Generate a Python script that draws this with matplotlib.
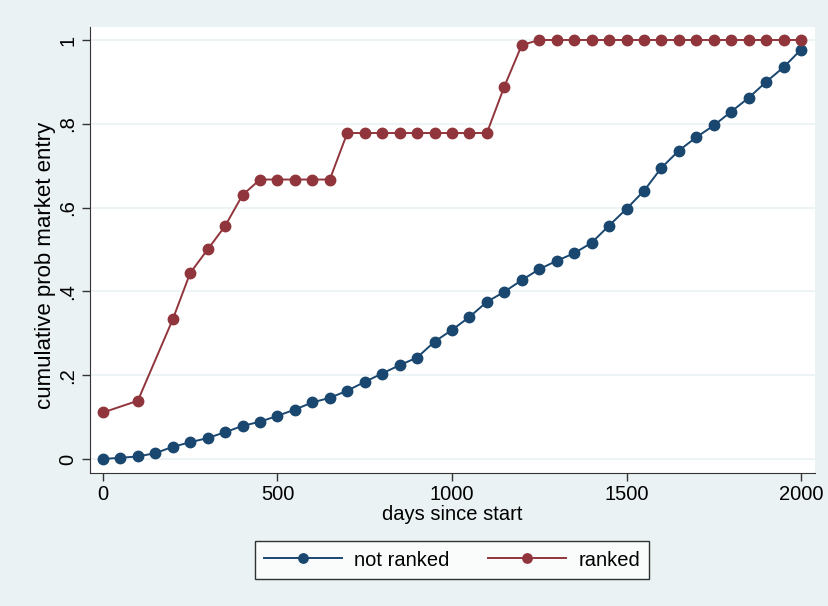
import numpy as np
import matplotlib
matplotlib.use("Agg")
import matplotlib.pyplot as plt

plt.rcParams['font.family'] = ['Liberation Sans', 'DejaVu Sans']

# not ranked: every 50 days
days_nr = list(range(0, 2001, 50))
prob_nr = [0.000, 0.003, 0.006, 0.014, 0.029, 0.040, 0.050, 0.064, 0.079, 0.089,
           0.103, 0.118, 0.135, 0.146, 0.163, 0.184, 0.204, 0.224, 0.242, 0.280,
           0.308, 0.339, 0.375, 0.399, 0.427, 0.453, 0.473, 0.491, 0.516, 0.557,
           0.597, 0.640, 0.695, 0.736, 0.768, 0.796, 0.829, 0.862, 0.900, 0.935,
           0.977]

# ranked
days_r = [0, 100] + list(range(200, 2001, 50))
prob_r = [0.111, 0.139,
          0.333, 0.444, 0.500, 0.556, 0.630,
          0.667, 0.667, 0.667, 0.667, 0.667,
          0.778, 0.778, 0.778, 0.778, 0.778, 0.778, 0.778, 0.778, 0.778,
          0.889, 0.988,
          1.0, 1.0, 1.0, 1.0, 1.0, 1.0, 1.0, 1.0,
          1.0, 1.0, 1.0, 1.0, 1.0, 1.0, 1.0, 1.0]

bg = '#eaf2f3'
navy = '#1a476f'
maroon = '#90353b'
fs = 14.5

fig = plt.figure(figsize=(8.29, 6.06), dpi=100, facecolor=bg)
ax = fig.add_axes([90/829, 1-473/606, (815-90)/829, (473-27)/606])
ax.set_facecolor('white')

ax.plot(days_nr, prob_nr, '-o', color=navy, lw=1.4, ms=7.5, label='not ranked', zorder=3)
ax.plot(days_r, prob_r, '-o', color=maroon, lw=1.4, ms=7.5, label='ranked', zorder=3)

ax.set_xlim(-37, 2040)
ax.set_ylim(-0.0334, 1.031)
ax.set_xticks([0, 500, 1000, 1500, 2000])
ax.set_yticks([0, 0.2, 0.4, 0.6, 0.8, 1.0])
ax.set_yticklabels(['0', '.2', '.4', '.6', '.8', '1'], rotation=90, va='center')
ax.tick_params(labelsize=fs, length=6, color='#333333', width=1, pad=3)
ax.grid(axis='y', color=bg, lw=1.2)
ax.set_axisbelow(True)
for s in ['top', 'right']:
    ax.spines[s].set_visible(False)
for s in ['left', 'bottom']:
    ax.spines[s].set_color('#333333')

ax.set_xlabel('days since start', fontsize=fs, labelpad=0)
ax.set_ylabel('cumulative prob market entry', fontsize=16)
ax.yaxis.set_label_coords(-34/725, (473-265)/446)

leg = fig.legend(loc='center', bbox_to_anchor=(452/829, 1-560/606), ncol=2,
                 fontsize=fs, frameon=True, fancybox=False, edgecolor='black',
                 handlelength=3.9, handletextpad=0.6, columnspacing=1.9,
                 borderpad=0.45, borderaxespad=0, markerscale=0.9)
leg.get_frame().set_linewidth(1)

fig.savefig('out.png', dpi=100, facecolor=bg)
